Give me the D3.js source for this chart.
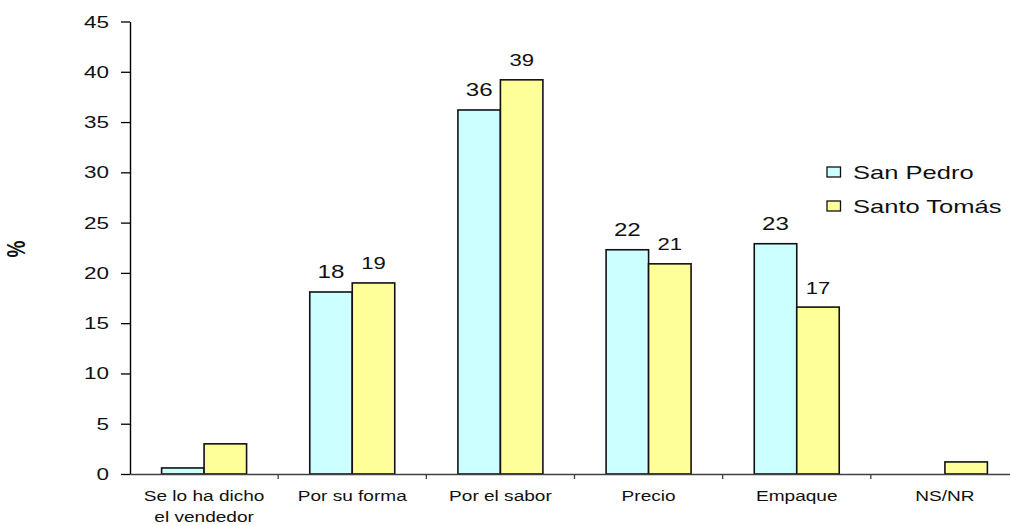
<!DOCTYPE html>
<html>
<head>
<meta charset="utf-8">
<script src="https://cdn.jsdelivr.net/npm/d3@7"></script>
<style>
  html, body { margin: 0; padding: 0; background: #fff; }
  svg { display: block; font-family: "Liberation Sans", Arial, sans-serif; }
</style>
</head>
<body>
<svg id="chart" width="1010" height="525"></svg>
<script>
// Reasons for choosing the product, by locality (%)
const categories = ["Se lo ha dicho\nel vendedor", "Por su forma", "Por el sabor", "Precio", "Empaque", "NS/NR"];
const seriesNames = ["San Pedro", "Santo Tomás"];
const sanPedro   = [0.6, 18.1, 36.2, 22.3, 22.9, 0];
const santoTomas = [3.0, 19.0, 39.2, 20.9, 16.6, 1.2];
// which bars carry a value label
const showSanPedro   = [false, true, true, true, true, false];
const showSantoTomas = [false, true, true, true, true, false];
const yTicks = [0, 5, 10, 15, 20, 25, 30, 35, 40, 45];
const yLabel = "%";

const seriesValues = [sanPedro, santoTomas];
const seriesShow = [showSanPedro, showSantoTomas];
const seriesColors = ["#CCFFFF", "#FFFF99"];
const labelSizes = [17.5, 16];
const SX = 1.38; // horizontal text stretch

const svg = d3.select("#chart");
const plot = { left: 130, right: 1019, top: 21.5, bottom: 474 };

const y = d3.scaleLinear().domain([0, 45]).range([plot.bottom, plot.top]);
const x0 = d3.scaleBand()
  .domain(d3.range(categories.length))
  .range([plot.left, plot.right])
  .paddingInner(0.4265)
  .paddingOuter(0.21325);
const x1 = d3.scaleBand().domain(d3.range(seriesNames.length)).range([0, x0.bandwidth()]);

// bars
const groups = svg.append("g").selectAll("g")
  .data(categories.map((c, i) => i))
  .join("g")
  .attr("transform", i => `translate(${x0(i)},0)`);

groups.selectAll("rect")
  .data(i => seriesValues.map((vals, s) => ({ s, v: vals[i] })).filter(d => d.v > 0))
  .join("rect")
  .attr("x", d => x1(d.s))
  .attr("y", d => y(d.v))
  .attr("width", x1.bandwidth())
  .attr("height", d => y(0) - y(d.v))
  .attr("fill", d => seriesColors[d.s])
  .attr("stroke", "#111")
  .attr("stroke-width", 1.6);

// value labels
groups.selectAll("text.val")
  .data(i => seriesValues.map((vals, s) => ({ s, v: vals[i], show: seriesShow[s][i] })).filter(d => d.show))
  .join("text")
  .attr("class", "val")
  .attr("transform", d => `translate(${x1(d.s) + x1.bandwidth() / 2},${y(d.v) - 13.5}) scale(${SX},1)`)
  .attr("text-anchor", "middle")
  .attr("font-size", d => labelSizes[d.s])
  .attr("fill", "#111")
  .text(d => d3.format(".0f")(d.v));

// y axis
const yAxis = svg.append("g")
  .attr("transform", `translate(${plot.left},0)`)
  .call(d3.axisLeft(y).tickValues(yTicks).tickSize(9).tickSizeOuter(0).tickFormat(d3.format("d")));
yAxis.select(".domain").attr("stroke", "#000").attr("stroke-width", 1.4);
yAxis.selectAll(".tick line").attr("stroke", "#000").attr("stroke-width", 1.3);
yAxis.selectAll(".tick text")
  .attr("x", -21 / SX)
  .attr("dy", "0.34em")
  .attr("transform", `scale(${SX},1)`)
  .attr("font-size", 16.3)
  .attr("font-family", null)
  .attr("fill", "#111");

// x axis with category labels
const xAxis = svg.append("g")
  .attr("transform", `translate(0,${plot.bottom})`)
  .call(d3.axisBottom(x0).tickSize(0).tickSizeOuter(0).tickFormat(() => ""));
xAxis.select(".domain").attr("stroke", "#404040").attr("stroke-width", 1.4);
xAxis.selectAll(".tick text").each(function(i) {
  const t = d3.select(this)
    .attr("y", 0)
    .attr("dy", null)
    .attr("transform", `scale(${SX},1)`)
    .attr("font-size", 13.8)
    .attr("font-family", null)
    .attr("fill", "#111");
  categories[i].split("\n").forEach((line, k) => {
    t.append("tspan").attr("x", 0).attr("y", 27 + k * 21.5).text(line);
  });
});

// tick marks between categories
xAxis.selectAll("line.sep")
  .data(d3.range(1, categories.length + 1))
  .join("line")
  .attr("class", "sep")
  .attr("x1", k => plot.left + k * x0.step())
  .attr("x2", k => plot.left + k * x0.step())
  .attr("y1", 0)
  .attr("y2", 5)
  .attr("stroke", "#404040")
  .attr("stroke-width", 1.3);

// y axis title
svg.append("text")
  .attr("transform", `translate(25,249) rotate(-90) scale(1,${SX})`)
  .attr("text-anchor", "middle")
  .attr("font-size", 19)
  .attr("font-weight", "bold")
  .attr("fill", "#111")
  .text(yLabel);

// legend
const legend = svg.append("g").attr("transform", "translate(827,167)");
const items = legend.selectAll("g")
  .data(seriesNames)
  .join("g")
  .attr("transform", (d, i) => `translate(0,${i * 34})`);
items.append("rect")
  .attr("width", 13.5)
  .attr("height", 10)
  .attr("fill", (d, i) => seriesColors[i])
  .attr("stroke", "#111")
  .attr("stroke-width", 1.3);
items.append("text")
  .attr("transform", `translate(26,11.5) scale(${SX},1)`)
  .attr("font-size", 18.5)
  .attr("fill", "#111")
  .text(d => d);
</script>
</body>
</html>
